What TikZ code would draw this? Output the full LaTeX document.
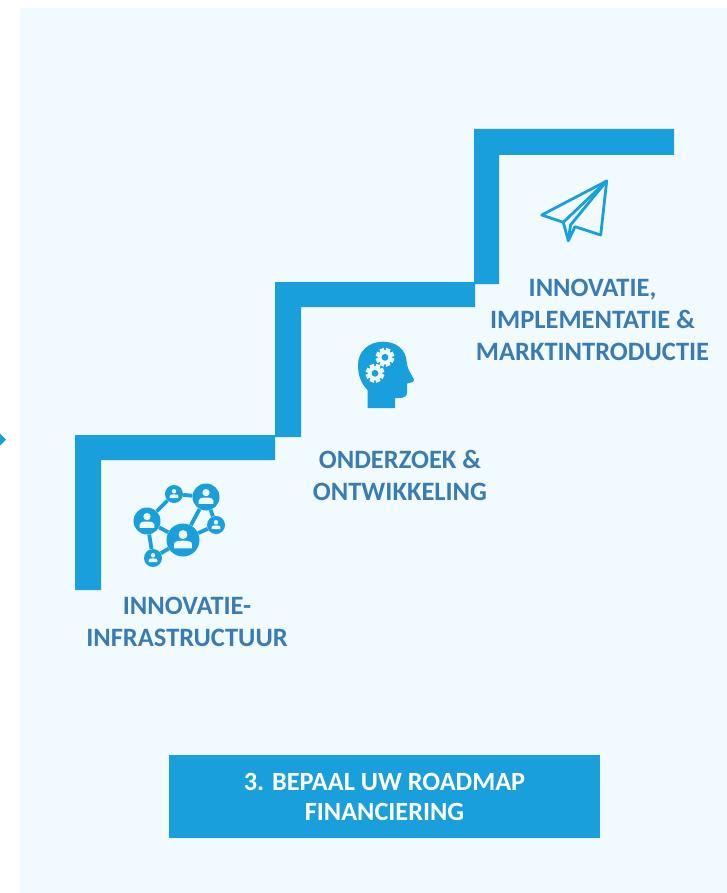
\documentclass[tikz,border=0pt]{standalone}
\usepackage{fontspec}
\setmainfont{Carlito}
\usepackage{xcolor}
\usetikzlibrary{positioning}
\definecolor{panelblue}{HTML}{F0FAFF}
\definecolor{stairblue}{HTML}{199FDB}
\definecolor{labelblue}{HTML}{3A7CB2}
\begin{document}
\begin{tikzpicture}[
    x=1pt, y=-1pt,
    stair/.style={fill=stairblue, draw=none},
    steplabel/.style={align=center, text=labelblue, inner sep=0, font=\fontsize{26.5}{32}\selectfont\bfseries},
    hub/.style={circle, fill=stairblue, inner sep=0, minimum size=#1},
    link/.style={draw=stairblue, line width=3.8pt},
    planeline/.style={draw=stairblue, line width=2.8pt, line join=round, line cap=round},
    titlebar/.style={fill=stairblue, text=white, align=center, minimum width=431pt, minimum height=83pt, inner sep=0, font=\fontsize{26.3}{30}\selectfont\bfseries},
    person/.pic={
        \fill[panelblue] (0,-0.34) circle (0.28);
        \fill[panelblue] (-0.56,0.52) -- (-0.56,0.26) .. controls (-0.56,0.10) and (-0.35,0.04) .. (0,0.04)
            .. controls (0.35,0.04) and (0.56,0.10) .. (0.56,0.26) -- (0.56,0.52) -- cycle;
    },
    gear/.pic={
        \fill[panelblue] (0,0) circle (0.72);
        \foreach \a in {0,45,...,315}
            \fill[panelblue, rotate=\a+22.5] (-0.24,0.6) rectangle (0.24,0.98);
        \fill[stairblue] (0,0) circle (0.36);
    }]
\useasboundingbox (0,0) rectangle (727,893);
\fill[white] (0,0) rectangle (727,893);
\fill[panelblue] (20,8) rectangle (727,893);
\fill[stairblue] (0,433.5) -- (6,439.5) -- (0,445.5) -- cycle;

% stairs
\fill[stair] (75,590) -- (75,435) -- (275,435) -- (275,460) -- (101,460) -- (101,590) -- cycle;
\fill[stair] (275,437) -- (275,282) -- (475,282) -- (475,307) -- (301,307) -- (301,437) -- cycle;
\fill[stair] (474,284) -- (474,129) -- (674,129) -- (674,155) -- (499,155) -- (499,284) -- cycle;

% labels
\node[steplabel] (labelinfra) at (187,622) {INNOVATIE-\\INFRASTRUCTUUR};
\node[steplabel] (labelresearch) at (400,475) {ONDERZOEK \&\\ONTWIKKELING};
\node[steplabel] (labelmarket) at (592.5,320) {INNOVATIE,\\IMPLEMENTATIE \&\\MARKTINTRODUCTIE};
\node[titlebar, text depth=0] (roadmap) at (384.5,796.5) {3. BEPAAL UW ROADMAP\\FINANCIERING};

% network icon
\node[hub=33pt] (hubcenter) at (183,540) {};
\node[hub=27pt] (hubleft) at (147,521) {};
\node[hub=27pt] (hubtop) at (206,497) {};
\node[hub=18pt] (hubupper) at (174,494) {};
\node[hub=18pt] (hubright) at (216,525) {};
\node[hub=18pt] (hublower) at (153,558) {};
\draw[link] (hubleft) -- (hubupper);
\draw[link] (hubupper) -- (hubtop);
\draw[link] (hubleft) -- (hubcenter);
\draw[link] (hubleft) -- (hublower);
\draw[link] (hublower) -- (hubcenter);
\draw[link] (hubcenter) -- (hubtop);
\draw[link] (hubcenter) -- (hubright);
\draw[link] (hubtop) -- (hubright);
\foreach \n/\s in {hubcenter/16, hubleft/13, hubtop/13, hubupper/8, hubright/8, hublower/8}
    \pic[x=\s pt, y=-\s pt] at (\n) {person};

% head icon
\fill[stairblue] (367.7,408) -- (367.7,390) .. controls (361,384) and (358,375) .. (358,365)
    .. controls (358,351) and (369,341.7) .. (383,341.7)
    .. controls (397,341.7) and (406,350) .. (406.7,362)
    .. controls (407,369) and (412,375) .. (414,380)
    .. controls (414.5,382) and (410,383) .. (407,383.5)
    -- (407,393) .. controls (407,396) and (404,398) .. (400,398)
    -- (395,398) -- (395,408) -- cycle;
\coordinate (gearupper) at (385,357.3);
\coordinate (gearlower) at (375,373.3);
\pic[x=9.5pt, y=9.5pt] at (gearupper) {gear};
\pic[x=9.5pt, y=9.5pt] at (gearlower) {gear};

% paper plane
\coordinate (planetip) at (606.7,181);
\coordinate (planeleft) at (541.7,215);
\coordinate (planefold) at (563.3,222.3);
\coordinate (planekeel) at (568.3,240.7);
\coordinate (planenotch) at (575,226.7);
\coordinate (planewing) at (600.7,235);
\coordinate (planemid) at (570.5,225);
\draw[planeline] (planetip) -- (planeleft) -- (planefold) -- (planekeel) -- (planenotch) -- (planewing) -- cycle;
\draw[planeline] (planefold) -- (planetip);
\draw[planeline] (planekeel) -- (planemid) -- (planetip);
\end{tikzpicture}
\end{document}
